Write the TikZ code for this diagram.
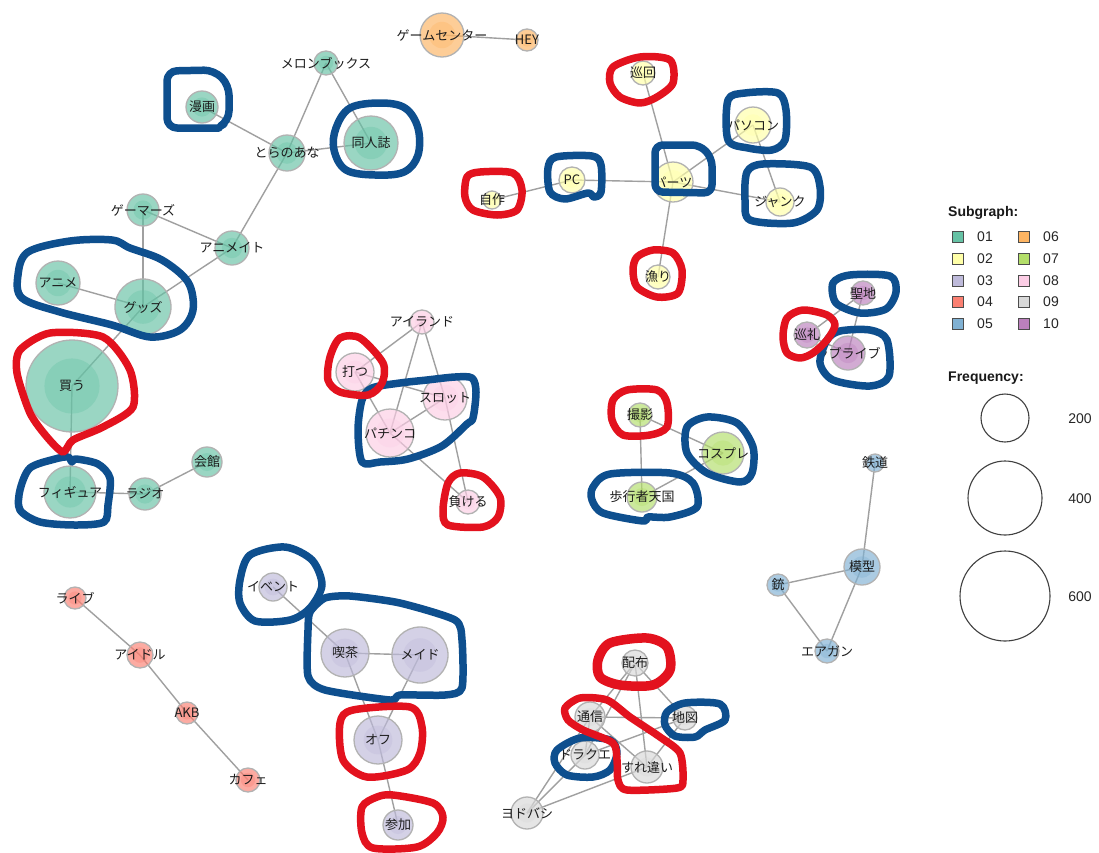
\documentclass[tikz,border=0pt]{standalone}
\usepackage{fontspec}
\setmainfont{Noto Sans CJK JP}
\newfontfamily\legfont{Liberation Sans}
\usetikzlibrary{backgrounds}
\definecolor{c01}{HTML}{66C2A5}
\definecolor{c02}{HTML}{FFFFA8}
\definecolor{c03}{HTML}{BEBADA}
\definecolor{c04}{HTML}{FB8072}
\definecolor{c05}{HTML}{80B1D3}
\definecolor{c06}{HTML}{FDB462}
\definecolor{c07}{HTML}{B3DE69}
\definecolor{c08}{HTML}{FCCDE5}
\definecolor{c09}{HTML}{D9D9D9}
\definecolor{c10}{HTML}{BC80BD}
\definecolor{blu}{HTML}{0E4F8E}
\definecolor{rd}{HTML}{E3121E}
\definecolor{edgec}{HTML}{A0A0A0}
\definecolor{txt}{HTML}{1C1C1C}
\tikzset{
  vtx/.style={circle, draw=gray!60, line width=1.3pt, inner sep=0pt, fill opacity=0.66},
  lbl/.style={inner sep=0pt, text=txt, font=\fontsize{13}{15}\selectfont},
  edge/.style={draw=edgec, line width=1.4pt},
  bloop/.style={draw=blu, line width=7.5pt, line join=round, line cap=round},
  rloop/.style={draw=rd, line width=7.5pt, line join=round, line cap=round},
  legsq/.style={draw=black!70, line width=0.9pt, minimum size=11pt, inner sep=0pt},
  legtxt/.style={font=\legfont\fontsize{14}{16}\selectfont, text=black!85, inner sep=0pt},
  leghead/.style={font=\legfont\bfseries\fontsize{14}{16}\selectfont, text=black!90, inner sep=0pt, anchor=west},
  legcirc/.style={circle, draw=black!75, line width=1.1pt, inner sep=0pt},
}
\newcommand\vx[5]{%
  \node[vtx, fill=#4, minimum size=#3*2pt] (#1) at (#2) {};
  \fill[#4, fill opacity=0.35] (#1.center) circle[radius=#3*0.6pt];
  \node[lbl] (#1-t) at (#1.center) {#5};
}
\begin{document}
\begin{tikzpicture}[x=1pt,y=-1pt]
\begin{pgfonlayer}{background}
\fill[white] (0,0) rectangle (1099,852);
\end{pgfonlayer}
\useasboundingbox (0,0) rectangle (1099,852);

% ---------- subgraph 01
\vx{mel}{326,63}{12}{c01}{メロンブックス}
\vx{manga}{202,107}{16}{c01}{漫画}
\vx{tora}{287,153}{18}{c01}{とらのあな}
\vx{dojin}{371,143}{27}{c01}{同人誌}
\vx{gamers}{143,210}{16}{c01}{ゲーマーズ}
\vx{animate}{232,248}{17}{c01}{アニメイト}
\vx{anime}{58,283}{22}{c01}{アニメ}
\vx{goods}{143,307}{28}{c01}{グッズ}
\vx{kau}{72,386}{46}{c01}{買う}
\vx{figure}{70,492}{26}{c01}{フィギュア}
\vx{radio}{145,494}{16}{c01}{ラジオ}
\vx{kaikan}{207,462}{15}{c01}{会館}
% ---------- subgraph 06
\vx{gc}{442,35}{22}{c06}{ゲームセンター}
\vx{hey}{527,40}{11}{c06}{HEY}
% ---------- subgraph 02
\vx{junkai}{643,73}{12}{c02}{巡回}
\vx{pasokon}{753,125}{18}{c02}{パソコン}
\vx{pc}{572,180}{13}{c02}{PC}
\vx{parts}{673,182}{20}{c02}{パーツ}
\vx{junk}{780,202}{14}{c02}{ジャンク}
\vx{jisaku}{492,200}{9}{c02}{自作}
\vx{asari}{658,277}{12}{c02}{漁り}
% ---------- subgraph 10
\vx{seichi}{863,293}{12}{c10}{聖地}
\vx{junrei}{807,335}{13}{c10}{巡礼}
\vx{lovelive}{848,353}{17}{c10}{ラブライブ}
% ---------- subgraph 08
\vx{island}{422,322}{12}{c08}{アイランド}
\vx{utsu}{355,372}{19}{c08}{打つ}
\vx{slot}{445,398}{22}{c08}{スロット}
\vx{pachinko}{390,433}{24}{c08}{パチンコ}
\vx{makeru}{468,502}{12}{c08}{負ける}
% ---------- subgraph 07
\vx{satsuei}{640,415}{12}{c07}{撮影}
\vx{cosplay}{723,453}{21}{c07}{コスプレ}
\vx{hokosha}{642,497}{15}{c07}{歩行者天国}
% ---------- subgraph 05
\vx{tetsudo}{875,463}{9}{c05}{鉄道}
\vx{mokei}{862,567}{18}{c05}{模型}
\vx{ju}{778,585}{11}{c05}{銃}
\vx{airgun}{827,651}{12}{c05}{エアガン}
% ---------- subgraph 04
\vx{live}{75,598}{11}{c04}{ライブ}
\vx{idol}{140,655}{13}{c04}{アイドル}
\vx{akb}{187,713}{11}{c04}{AKB}
\vx{cafe}{248,780}{12}{c04}{カフェ}
% ---------- subgraph 03
\vx{event}{273,587}{14}{c03}{イベント}
\vx{kissa}{345,653}{24}{c03}{喫茶}
\vx{maid}{420,655}{28}{c03}{メイド}
\vx{off}{378,740}{24}{c03}{オフ}
\vx{sanka}{398,825}{15}{c03}{参加}
% ---------- subgraph 09
\vx{haifu}{635,663}{13}{c09}{配布}
\vx{tsushin}{590,717}{15}{c09}{通信}
\vx{chizu}{685,718}{12}{c09}{地図}
\vx{dq}{585,755}{14}{c09}{ドラクエ}
\vx{surechigai}{647,767}{16}{c09}{すれ違い}
\vx{yodobashi}{527,813}{16}{c09}{ヨドバシ}

% ---------- edges
\begin{pgfonlayer}{background}
\foreach \a/\b in {mel/dojin, mel/tora, manga/tora, tora/dojin, tora/animate,
  gamers/animate, gamers/goods, animate/goods, anime/goods, goods/kau,
  kau/figure, figure/radio, radio/kaikan,
  gc/hey,
  junkai/parts, parts/pasokon, parts/junk, pasokon/junk, pc/parts, jisaku/pc, parts/asari,
  junrei/seichi, junrei/lovelive, seichi/lovelive,
  island/utsu, island/pachinko, island/slot, utsu/slot, utsu/pachinko,
  pachinko/slot, pachinko/makeru, slot/makeru,
  satsuei/cosplay, satsuei/hokosha, hokosha/cosplay,
  tetsudo/mokei, mokei/ju, mokei/airgun, ju/airgun,
  live/idol, idol/akb, akb/cafe,
  event/kissa, kissa/maid, kissa/off, maid/off, off/sanka,
  haifu/tsushin, haifu/dq, haifu/surechigai, haifu/chizu, tsushin/chizu,
  tsushin/surechigai, tsushin/dq, dq/chizu, surechigai/chizu,
  yodobashi/dq, yodobashi/tsushin, yodobashi/surechigai}
  \draw[edge] (\a.center) -- (\b.center);
\end{pgfonlayer}

% ---------- blue loops
\draw[bloop, rounded corners=10pt] (219,128) -- (167,128) -- (167,71) -- (214,70) -- (229,85) -- (229,121) -- (224,124);
\draw[bloop] plot[smooth cycle, tension=0.6] coordinates {(336,128) (350,108) (380,103) (405,108) (418,128) (418,155) (404,172) (375,175) (346,170) (334,150)};
\draw[bloop] plot[smooth cycle, tension=0.55] coordinates {(18,275) (28,252) (70,241) (112,240) (130,248) (162,260) (188,282) (193,310) (180,330) (150,337) (112,325) (60,312) (22,298)};
\draw[bloop] plot[smooth cycle, tension=0.5] coordinates {(20,490) (30,468) (55,459) (68,457) (72,462) (76,459) (98,464) (110,478) (108,505) (104,522) (75,525) (40,522) (20,510)};
\draw[bloop] plot[smooth cycle, tension=0.5] coordinates {(362,400) (372,388) (400,383) (427,380) (455,377) (472,378) (476,392) (473,418) (467,424) (442,446) (408,459) (380,462) (362,462) (358,430)};
\draw[bloop] plot[smooth cycle, tension=0.5] coordinates {(548,168) (556,157) (592,156) (601,165) (601,192) (594,197) (588,193) (565,199) (550,192)};
\draw[bloop, rounded corners=8pt] (655,145) -- (700,145) -- (712,158) -- (712,193) -- (655,192) -- cycle;
\draw[bloop] plot[smooth cycle, tension=0.5] coordinates {(728,100) (745,93) (778,93) (786,110) (785,140) (772,150) (748,148) (728,140)};
\draw[bloop] plot[smooth cycle, tension=0.5] coordinates {(747,172) (763,164) (810,167) (820,187) (817,210) (793,223) (750,220) (745,200)};
\draw[bloop] plot[smooth cycle, tension=0.5] coordinates {(833,283) (850,275) (890,276) (896,292) (886,309) (860,313) (836,303)};
\draw[bloop] plot[smooth cycle, tension=0.5] coordinates {(827,340) (840,331) (870,330) (887,340) (889,376) (870,386) (833,380) (820,363)};
\draw[bloop] plot[smooth cycle, tension=0.5] coordinates {(687,427) (707,417) (737,423) (753,447) (752,473) (740,482) (707,473) (687,453)};
\draw[bloop] plot[smooth cycle, tension=0.5] coordinates {(593,487) (610,474) (670,473) (693,483) (697,507) (670,517) (648,517) (643,521) (603,513) (592,500)};
\draw[bloop] plot[smooth cycle, tension=0.5] coordinates {(240,580) (250,555) (285,547) (312,560) (322,585) (310,608) (290,620) (255,621) (240,603)};
\draw[bloop] plot[smooth cycle, tension=0.4] coordinates {(310,612) (325,598) (350,596) (400,603) (455,620) (462,640) (462,688) (445,695) (400,695) (390,700) (325,690) (308,676) (308,630)};
\draw[bloop] plot[smooth cycle, tension=0.5] coordinates {(667,712) (685,703) (720,704) (725,720) (705,730) (695,737) (675,736) (665,725)};
\draw[bloop] plot[smooth cycle, tension=0.5] coordinates {(557,750) (580,738) (610,740) (617,753) (610,770) (593,777) (567,775) (555,763)};

% ---------- red loops
\draw[rloop] plot[smooth cycle, tension=0.45] coordinates {(20,350) (50,333) (103,337) (130,370) (133,407) (103,427) (73,440) (63,452) (47,437) (30,413) (17,373)};
\draw[rloop] plot[smooth cycle, tension=0.5] coordinates {(330,357) (340,338) (360,338) (383,363) (382,383) (368,395) (340,392) (328,380)};
\draw[rloop] plot[smooth cycle, tension=0.5] coordinates {(448,483) (460,473) (483,477) (500,497) (498,517) (483,527) (448,525) (443,510)};
\draw[rloop] plot[smooth cycle, tension=0.5] coordinates {(613,67) (640,57) (670,60) (673,83) (657,97) (640,103) (620,97) (610,83)};
\draw[rloop] plot[smooth cycle, tension=0.5] coordinates {(467,177) (480,172) (513,173) (522,190) (517,210) (497,215) (473,210) (465,197)};
\draw[rloop] plot[smooth cycle, tension=0.5] coordinates {(637,257) (653,250) (673,253) (682,270) (678,293) (657,297) (637,287) (633,270)};
\draw[rloop] plot[smooth cycle, tension=0.5] coordinates {(787,318) (803,310) (827,315) (835,325) (827,340) (813,353) (800,358) (787,353) (783,337)};
\draw[rloop] plot[smooth cycle, tension=0.5] coordinates {(613,400) (627,390) (657,390) (667,403) (667,427) (650,435) (623,435) (612,420)};
\draw[rloop] plot[smooth cycle, tension=0.5] coordinates {(340,723) (353,710) (410,707) (422,727) (420,753) (407,770) (367,777) (343,760)};
\draw[rloop] plot[smooth cycle, tension=0.5] coordinates {(362,807) (377,797) (393,795) (433,803) (443,817) (437,833) (417,847) (373,848) (362,833)};
\draw[rloop, line width=9.5pt] plot[smooth cycle, tension=0.5] coordinates {(598,660) (610,643) (647,638) (667,647) (670,670) (653,685) (620,685) (600,677)};
\draw[rloop] plot[smooth cycle, tension=0.45] coordinates {(565,708) (580,698) (607,700) (630,717) (660,737) (680,753) (683,780) (677,788) (627,790) (618,780) (617,760) (613,743) (583,730) (568,720)};

% ---------- legend
\node[leghead] (lgh1) at (948,213) {Subgraph:};
\foreach \n/\c/\x/\y in {01/c01/958/237, 02/c02/958/259, 03/c03/958/281, 04/c04/958/302, 05/c05/958/324,
                          06/c06/1024/237, 07/c07/1024/259, 08/c08/1024/281, 09/c09/1024/302, 10/c10/1024/324}{
  \node[legsq, fill=\c] (sq\n) at (\x,\y) {};
  \node[legtxt, anchor=west] (sqt\n) at (\x+19,\y) {\n};
}
\node[leghead] (lgh2) at (948,378) {Frequency:};
\node[legcirc, minimum size=48pt] (f200) at (1005,418) {};
\node[legcirc, minimum size=74pt] (f400) at (1005,498) {};
\node[legcirc, minimum size=90pt] (f600) at (1005,596) {};
\node[legtxt] (f200t) at (1080,419) {200};
\node[legtxt] (f400t) at (1080,499) {400};
\node[legtxt] (f600t) at (1080,597) {600};
\end{tikzpicture}
\end{document}
